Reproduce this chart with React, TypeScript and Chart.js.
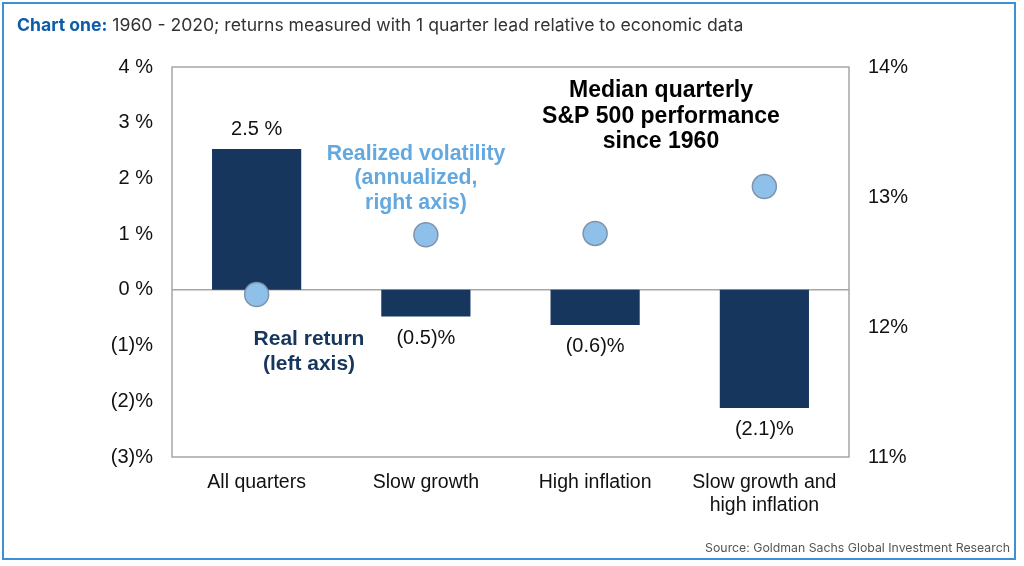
import React, { useEffect, useRef } from "react";
import { Chart, registerables } from "chart.js";

Chart.register(...registerables);

const categories: (string | string[])[] = [
  "All quarters",
  "Slow growth",
  "High inflation",
  ["Slow growth and", "high inflation"],
];
const realReturn = [2.53, -0.48, -0.63, -2.12];
const realizedVol = [12.25, 12.71, 12.72, 13.08];
const leftTicks = [4, 3, 2, 1, 0, -1, -2, -3];
const rightTicks = [14, 13, 12, 11];

const FONT = "'Liberation Sans', Arial, sans-serif";
const NAVY = "#17365d";
const LIGHT = "#8fc0ea";
const LIGHT_TEXT = "#63a9e0";

const fmtLeft = (v: number) => (v < 0 ? `(${Math.abs(v)})%` : `${v} %`);
const fmtLabel = (v: number) =>
  v < 0 ? `(${Math.abs(v).toFixed(1)})%` : `${v.toFixed(1)} %`;

const overlayPlugin = {
  id: "overlay",
  beforeDatasetsDraw(chart: any) {
    const { ctx, chartArea, scales } = chart;
    ctx.save();
    ctx.strokeStyle = "#a6a6a6";
    ctx.lineWidth = 1.5;
    ctx.strokeRect(chartArea.left, chartArea.top, chartArea.right - chartArea.left, chartArea.bottom - chartArea.top);
    const y0 = scales.y.getPixelForValue(0);
    ctx.beginPath();
    ctx.moveTo(chartArea.left, y0);
    ctx.lineTo(chartArea.right, y0);
    ctx.stroke();
    ctx.restore();
  },
  afterDatasetsDraw(chart: any) {
    const { ctx, chartArea } = chart;
    const meta = chart.getDatasetMeta(1);
    ctx.save();
    ctx.textAlign = "center";
    ctx.textBaseline = "middle";
    ctx.fillStyle = "#111";
    ctx.font = `20px ${FONT}`;
    meta.data.forEach((el: any, i: number) => {
      const v = realReturn[i];
      const y = v >= 0 ? el.y - 19 : el.y + 22;
      ctx.fillText(fmtLabel(v), el.x, y);
    });
    const L = chartArea.left;
    const T = chartArea.top;
    const lines = (arr: string[], x: number, y: number, gap: number) =>
      arr.forEach((t, i) => ctx.fillText(t, x, y + i * gap));
    ctx.font = `bold 23px ${FONT}`;
    ctx.fillStyle = "#000";
    lines(["Median quarterly", "S&P 500 performance", "since 1960"], L + 489, T + 24, 25.5);
    ctx.font = `bold 21.3px ${FONT}`;
    ctx.fillStyle = LIGHT_TEXT;
    lines(["Realized volatility", "(annualized,", "right axis)"], L + 244, T + 87, 24.5);
    ctx.font = `bold 21px ${FONT}`;
    ctx.fillStyle = NAVY;
    lines(["Real return", "(left axis)"], L + 137, T + 272, 25);
    ctx.restore();
  },
};

export default function App() {
  const ref = useRef<HTMLCanvasElement>(null);
  useEffect(() => {
    document.body.style.margin = "0";
    const chart = new Chart(ref.current!, {
      type: "bar",
      data: {
        labels: categories as any,
        datasets: [
          {
            type: "line",
            label: "Realized volatility",
            data: realizedVol,
            yAxisID: "y1",
            showLine: false,
            pointRadius: 12,
            pointBackgroundColor: LIGHT,
            pointBorderColor: "#7f94ab",
            pointBorderWidth: 1.5,
            order: 0,
          } as any,
          {
            type: "bar",
            label: "Real return",
            data: realReturn,
            yAxisID: "y",
            backgroundColor: NAVY,
            categoryPercentage: 1,
            barPercentage: 0.527,
            order: 1,
          },
        ],
      },
      options: {
        responsive: false,
        animation: false,
        layout: { padding: { top: 67, left: 0, right: 0, bottom: 0 } },
        plugins: { legend: { display: false }, tooltip: { enabled: false }, title: { display: false } },
        scales: {
          x: {
            grid: { display: false, drawTicks: false },
            border: { display: false },
            ticks: { color: "#111", font: { family: FONT, size: 19.5 }, padding: 14, maxRotation: 0, autoSkip: false },
            afterFit: (s: any) => { s.height = 109; },
          },
          y: {
            position: "left",
            min: -3,
            max: 4,
            afterBuildTicks: (s: any) => { s.ticks = leftTicks.map((v) => ({ value: v })); },
            grid: { display: false, drawTicks: false },
            border: { display: false },
            ticks: { color: "#111", font: { family: FONT, size: 20 }, padding: 19, callback: (v: any) => fmtLeft(Number(v)) },
            afterFit: (s: any) => { s.width = 172; },
          },
          y1: {
            position: "right",
            min: 11,
            max: 14,
            afterBuildTicks: (s: any) => { s.ticks = rightTicks.map((v) => ({ value: v })); },
            grid: { display: false, drawTicks: false },
            border: { display: false },
            ticks: { color: "#111", font: { family: FONT, size: 20 }, padding: 19, callback: (v: any) => `${v}%` },
            afterFit: (s: any) => { s.width = 175; },
          },
        },
      },
      plugins: [overlayPlugin],
    });
    return () => chart.destroy();
  }, []);

  return (
    <div style={{ position: "relative", width: 1024, height: 566, background: "#fff", overflow: "hidden" }}>
      <canvas ref={ref} width={1024} height={566} style={{ position: "absolute", left: 0, top: 0 }} />
      <div
        style={{
          position: "absolute", left: 2, top: 2, width: 1014, height: 558,
          border: "2px solid #3d8fd6", boxSizing: "border-box", pointerEvents: "none",
        }}
      />
      <div
        style={{
          position: "absolute", left: 17, top: 13, fontFamily: "Inter, 'Open Sans', sans-serif",
          fontSize: 17.6, color: "#333", whiteSpace: "nowrap", lineHeight: "24px",
        }}
      >
        <span style={{ color: "#0d5cab", fontWeight: 700 }}>Chart one:</span> 1960 - 2020; returns measured with 1 quarter lead relative to economic data
      </div>
      <div
        style={{
          position: "absolute", right: 14, top: 540, fontFamily: "Inter, 'Open Sans', sans-serif",
          fontSize: 12.3, color: "#555", whiteSpace: "nowrap", lineHeight: "16px",
        }}
      >
        Source: Goldman Sachs Global Investment Research
      </div>
    </div>
  );
}
